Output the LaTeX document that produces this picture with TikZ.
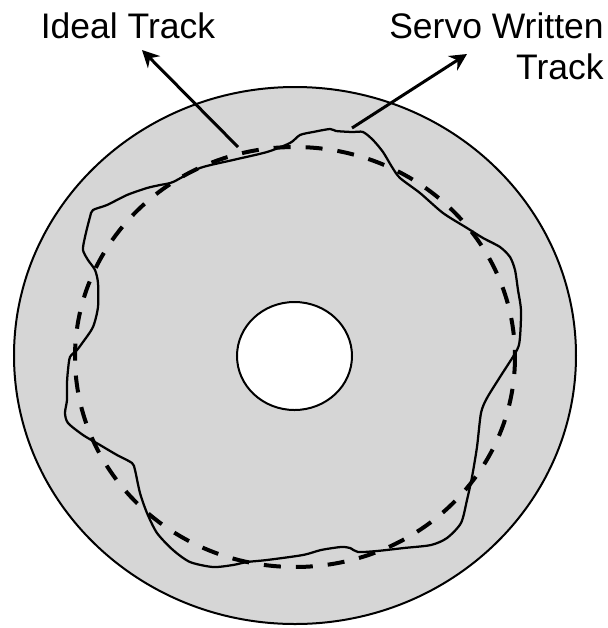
\documentclass[tikz,border=0pt]{standalone}
\usepackage{fontspec}
\setmainfont{Liberation Sans}
\usetikzlibrary{arrows.meta}
\definecolor{diskgray}{RGB}{214,214,214}
\tikzset{
  disk/.style={draw,line width=0.4mm,fill=diskgray},
  hole/.style={draw,line width=0.4mm,fill=white},
  itrack/.style={line width=0.8mm,dash pattern=on 3.4mm off 3mm},
  strack/.style={line width=0.45mm},
  lbl/.style={inner sep=0pt,font=\fontsize{20.2}{23.5}\selectfont},
  pa/.style={-{Stealth[length=3.4mm,width=3.4mm]},line width=0.6mm}
}

\begin{document}
\begin{tikzpicture}[x=0.2mm,y=-0.2mm]
\useasboundingbox (0,0) rectangle (608,628);
\draw[disk] (295,355.5) ellipse [x radius=281, y radius=268.5];
\draw[hole] (294.5,356) ellipse [x radius=57.5, y radius=54];
\draw[strack] plot[smooth cycle,tension=0.45] coordinates {
  (200,168) (233,160) (267,152) (290,143) (300,135) (313,132) (330,129)
  (336,131) (352,132) (363,132) (373,140) (383,152) (392,167) (400,178)
  (420,193) (443,213) (467,228) (483,238) (500,247) (510,257) (515,270)
  (518,290) (521,310) (520,337) (517,350) (500,377) (487,398) (481,413)
  (477,447) (472,477) (467,500) (461,523) (447,538) (431,545) (404,548)
  (377,551) (358,552) (350,548) (341,547) (321,550) (303,555) (267,560)
  (247,562) (233,565) (213,567) (190,562) (173,550) (157,533) (147,513)
  (140,493) (135,470) (132,463) (117,455) (100,445) (83,435) (68,423)
  (65,413) (67,400) (67,383) (68,370) (70,357) (77,350) (83,342) (93,327)
  (98,307) (98,283) (95,270) (88,260) (83,250) (85,237) (90,217) (93,210)
  (107,205) (127,195) (147,188) (160,185) (173,182)};
\draw[itrack] (295,357) ellipse [x radius=220, y radius=210];
% labels
\node[lbl,anchor=north] (idealtxt) at (128,12) {Ideal Track};
\node[lbl,anchor=north east,align=right] (servotxt) at (604,12) {Servo Written\\Track};
\coordinate (idealfoot) at (238,147);
\coordinate (idealtip) at (142,50);
\coordinate (servofoot) at (352,128);
\coordinate (servotip) at (467,54);
\draw[pa] (idealfoot) -- (idealtip);
\draw[pa] (servofoot) -- (servotip);
\end{tikzpicture}
\end{document}
